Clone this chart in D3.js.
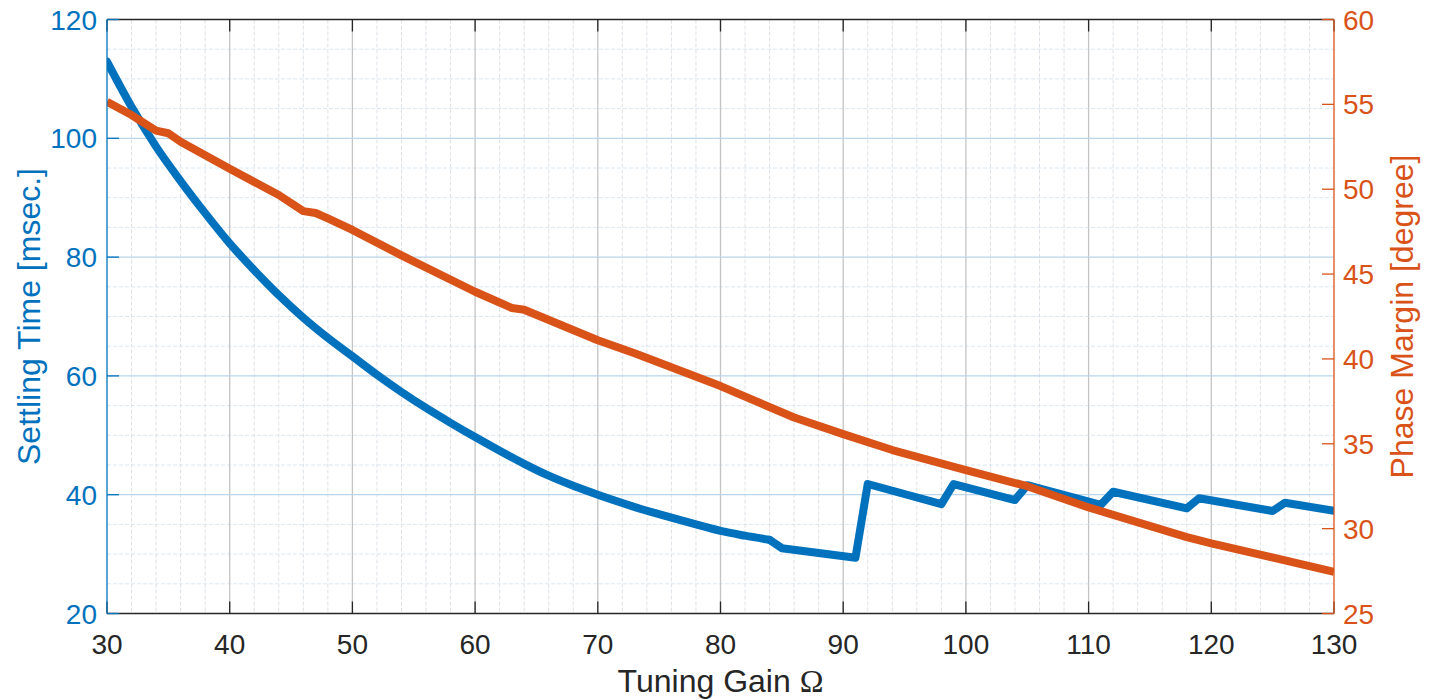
<!DOCTYPE html>
<html>
<head>
<meta charset="utf-8">
<script src="https://cdn.jsdelivr.net/npm/d3@7"></script>
<style>
  html, body { margin: 0; padding: 0; background: #fff; }
  svg { display: block; font-family: "Liberation Sans", Arial, sans-serif; }
</style>
</head>
<body>
<svg id="chart"></svg>
<script>
// tuning gain vs settling time (left axis)
const gainST = [30, 32, 34, 36, 38, 40, 42, 44, 46, 48, 50, 52, 54, 56, 58, 60, 62, 64, 66, 68, 70,
    72, 74, 76, 78, 80, 82, 84, 85, 88, 91, 92, 98, 99, 104, 105, 111, 112, 118, 119, 125, 126, 130];
const settlingTime = [112.9, 105.3, 98.6, 92.8, 87.4, 82.3, 77.8, 73.6, 69.8, 66.4, 63.3, 60.2, 57.3, 54.6, 52.1, 49.7, 47.4, 45.2, 43.2, 41.5, 40.0,
    38.6, 37.3, 36.15, 35.0, 33.9, 33.1, 32.4, 31.0, 30.2, 29.4, 41.8, 38.4, 41.8, 39.1, 41.6, 38.3, 40.5, 37.7, 39.4, 37.25, 38.65, 37.3];

// tuning gain vs phase margin (right axis)
const gainPM = [30, 32, 34, 35, 36, 40, 44, 46, 47, 48, 50, 54, 60, 63, 64, 70, 73, 80, 86, 90, 94, 100, 105, 110, 118, 120, 130];
const phaseMargin = [55.15, 54.37, 53.45, 53.3, 52.8, 51.2, 49.66, 48.71, 48.6, 48.28, 47.6, 46.1, 43.96, 43.0, 42.9, 41.1, 40.33,
    38.4, 36.55, 35.57, 34.63, 33.45, 32.5, 31.25, 29.5, 29.13, 27.46];

const xTicks = [30, 40, 50, 60, 70, 80, 90, 100, 110, 120, 130];
const leftTicks = [20, 40, 60, 80, 100, 120];
const rightTicks = [25, 30, 35, 40, 45, 50, 55, 60];

const width = 1435, height = 700;
const blue = "#0072BD", orange = "#D95319", dark = "#262626";
const margin = { top: 19.5, right: 101, bottom: 86.5, left: 107 };

const svg = d3.select("#chart").attr("width", width).attr("height", height);

const x = d3.scaleLinear().domain([30, 130]).range([margin.left, width - margin.right]);
const yL = d3.scaleLinear().domain([20, 120]).range([height - margin.bottom, margin.top]);
const yR = d3.scaleLinear().domain([25, 60]).range([height - margin.bottom, margin.top]);

const x0 = x.range()[0], x1 = x.range()[1];
const yTop = margin.top, yBot = height - margin.bottom;

// minor grid
const grid = svg.append("g");
const minorX = d3.range(30, 131, 2).filter(d => d % 10 !== 0);
const minorY = d3.range(20, 121, 5).filter(d => d % 20 !== 0);

grid.selectAll("line.mx").data(minorX).enter().append("line")
    .attr("x1", d => x(d)).attr("x2", d => x(d))
    .attr("y1", yTop).attr("y2", yBot)
    .attr("stroke", "#dde1e6").attr("stroke-width", 1)
    .attr("stroke-dasharray", "4,2");

grid.selectAll("line.my").data(minorY).enter().append("line")
    .attr("x1", x0).attr("x2", x1)
    .attr("y1", d => yL(d)).attr("y2", d => yL(d))
    .attr("stroke", "#d9e7f2").attr("stroke-width", 1)
    .attr("stroke-dasharray", "4,2");

// major grid
grid.selectAll("line.gx").data(xTicks.slice(1, -1)).enter().append("line")
    .attr("x1", d => x(d)).attr("x2", d => x(d))
    .attr("y1", yTop).attr("y2", yBot)
    .attr("stroke", "#c4c4c4").attr("stroke-width", 1.3);

grid.selectAll("line.gy").data(leftTicks.slice(1, -1)).enter().append("line")
    .attr("x1", x0).attr("x2", x1)
    .attr("y1", d => yL(d)).attr("y2", d => yL(d))
    .attr("stroke", "#b9d6ec").attr("stroke-width", 1.3);

// data lines
svg.append("clipPath").attr("id", "plotclip")
    .append("rect").attr("x", x0).attr("y", yTop).attr("width", x1 - x0).attr("height", yBot - yTop);

const plot = svg.append("g").attr("clip-path", "url(#plotclip)");

// smooth part of the settling time curve, then the stepped tail as straight segments
const stPoints = gainST.map((g, i) => [g, settlingTime[i]]);
const smoothPart = stPoints.filter(p => p[0] <= 84);
const stepPart = stPoints.filter(p => p[0] >= 84);

const smoothLine = d3.line().x(p => x(p[0])).y(p => yL(p[1])).curve(d3.curveMonotoneX);
const stepLine = d3.line().x(p => x(p[0])).y(p => yL(p[1]));

[[smoothPart, smoothLine], [stepPart, stepLine]].forEach(([pts, gen]) => {
    plot.append("path").datum(pts)
        .attr("d", gen)
        .attr("fill", "none").attr("stroke", blue)
        .attr("stroke-width", 8).attr("stroke-linejoin", "round").attr("stroke-linecap", "round");
});

const linePM = d3.line().x((d, i) => x(gainPM[i])).y(d => yR(d));
plot.append("path").datum(phaseMargin)
    .attr("d", linePM)
    .attr("fill", "none").attr("stroke", orange)
    .attr("stroke-width", 8).attr("stroke-linejoin", "round");

// axes
const tickLen = 12;
const axes = svg.append("g");

// bottom + top
axes.append("line").attr("x1", x0).attr("x2", x1).attr("y1", yBot).attr("y2", yBot)
    .attr("stroke", dark).attr("stroke-width", 1.3);
axes.append("line").attr("x1", x0).attr("x2", x1).attr("y1", yTop).attr("y2", yTop)
    .attr("stroke", dark).attr("stroke-width", 1.3);

axes.selectAll("line.xtb").data(xTicks).enter().append("line")
    .attr("x1", d => x(d)).attr("x2", d => x(d))
    .attr("y1", yBot).attr("y2", yBot - tickLen)
    .attr("stroke", dark).attr("stroke-width", 1.3);
axes.selectAll("line.xtt").data(xTicks).enter().append("line")
    .attr("x1", d => x(d)).attr("x2", d => x(d))
    .attr("y1", yTop).attr("y2", yTop + tickLen)
    .attr("stroke", dark).attr("stroke-width", 1.3);

axes.selectAll("text.xl").data(xTicks).enter().append("text")
    .attr("x", d => x(d)).attr("y", 654)
    .attr("text-anchor", "middle")
    .attr("font-size", 28).attr("fill", dark)
    .text(d => d);

// left
axes.append("line").attr("x1", x0).attr("x2", x0).attr("y1", yTop).attr("y2", yBot)
    .attr("stroke", blue).attr("stroke-width", 1.3);
axes.selectAll("line.lt").data(leftTicks).enter().append("line")
    .attr("x1", x0).attr("x2", x0 + tickLen)
    .attr("y1", d => yL(d)).attr("y2", d => yL(d))
    .attr("stroke", blue).attr("stroke-width", 1.3);
axes.selectAll("text.ll").data(leftTicks).enter().append("text")
    .attr("x", 97).attr("y", d => yL(d) + 10)
    .attr("text-anchor", "end")
    .attr("font-size", 28).attr("fill", blue)
    .text(d => d);

// right
axes.append("line").attr("x1", x1).attr("x2", x1).attr("y1", yTop).attr("y2", yBot)
    .attr("stroke", orange).attr("stroke-width", 1.3);
axes.selectAll("line.rt").data(rightTicks).enter().append("line")
    .attr("x1", x1).attr("x2", x1 - tickLen)
    .attr("y1", d => yR(d)).attr("y2", d => yR(d))
    .attr("stroke", orange).attr("stroke-width", 1.3);
axes.selectAll("text.rl").data(rightTicks).enter().append("text")
    .attr("x", 1343).attr("y", d => yR(d) + 10)
    .attr("text-anchor", "start")
    .attr("font-size", 28).attr("fill", orange)
    .text(d => d);

// axis titles
const midY = (yTop + yBot) / 2;
svg.append("text")
    .attr("transform", `translate(40,${midY}) rotate(-90)`)
    .attr("text-anchor", "middle")
    .attr("font-size", 32).attr("fill", blue)
    .text("Settling Time [msec.]");

svg.append("text")
    .attr("transform", `translate(1413,${midY}) rotate(-90)`)
    .attr("text-anchor", "middle")
    .attr("font-size", 32).attr("fill", orange)
    .text("Phase Margin [degree]");

const xTitle = svg.append("text")
    .attr("x", (x0 + x1) / 2).attr("y", 692)
    .attr("text-anchor", "middle")
    .attr("font-size", 32).attr("fill", dark);
xTitle.append("tspan").text("Tuning Gain ");
xTitle.append("tspan").attr("font-family", "'Liberation Serif', 'Times New Roman', serif").text("Ω");
</script>
</body>
</html>
